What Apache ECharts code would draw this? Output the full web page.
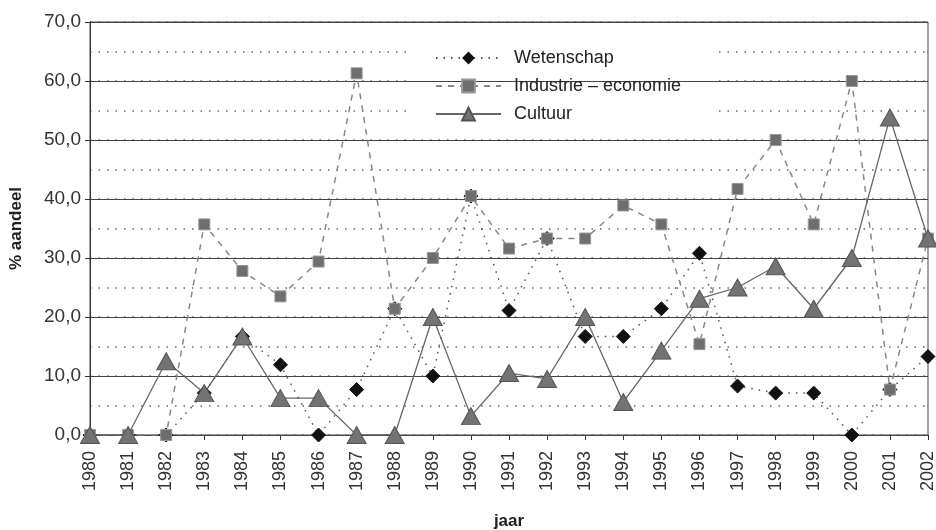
<!DOCTYPE html>
<html><head><meta charset="utf-8">
<script src="https://cdn.jsdelivr.net/npm/echarts@6/dist/echarts.min.js"></script>
<style>html,body{margin:0;padding:0;background:#fff}#c{width:936px;height:530px}</style>
</head><body><div id="c"></div>
<script>
var years = ['1980','1981','1982','1983','1984','1985','1986','1987','1988','1989','1990','1991','1992','1993','1994','1995','1996','1997','1998','1999','2000','2001','2002'];
var wetenschap = [0,0,0,7.1,16.7,11.9,0,7.7,21.4,10,40.5,21.1,33.3,16.7,16.7,21.4,30.8,8.3,7.1,7.1,0,7.7,13.3];
var industrie = [0,0,0,35.7,27.8,23.5,29.4,61.3,21.4,30,40.5,31.6,33.3,33.3,38.9,35.7,15.4,41.7,50,35.7,60,7.7,33.3];
var cultuur = [0,0,12.5,7.1,16.7,6.25,6.25,0,0,20,3.2,10.5,9.5,20,5.6,14.3,23.1,25,28.6,21.4,30,53.8,33.3];
var yTicks = [0,10,20,30,40,50,60,70];

var FONT = '"Liberation Sans Narrow","Arial Narrow","Liberation Sans",Arial,sans-serif';
var chart = echarts.init(document.getElementById('c'));
chart.setOption({
  animation: false,
  textStyle: {fontFamily: FONT},
  grid: {left: 90, right: 8, top: 22, bottom: 95, show: true, borderColor: '#444', borderWidth: 1,
    containLabel: false, outerBoundsMode: 'none'},
  legend: {
    left: 430, top: 44, orient: 'vertical', itemWidth: 65, itemHeight: 16, itemGap: 10,
    textStyle: {fontFamily: FONT, fontSize: 18, color: '#222', padding: [0, 0, 0, 8]},
    data: ['Wetenschap', 'Industrie – economie', 'Cultuur']
  },
  graphic: [{type: 'rect', shape: {x: 411, y: 40, width: 306, height: 82}, style: {fill: '#fff'}, z: 1, silent: true}],
  xAxis: {
    type: 'category', data: years, boundaryGap: false,
    axisLine: {lineStyle: {color: '#333'}},
    axisTick: {show: true, length: 5, lineStyle: {color: '#333'}},
    axisLabel: {rotate: 90, fontSize: 18, color: '#333', fontFamily: FONT, margin: 16},
    name: 'jaar', nameLocation: 'middle', nameGap: 78,
    nameTextStyle: {fontWeight: 'bold', fontSize: 17, color: '#222', fontFamily: FONT}
  },
  yAxis: [{
    type: 'value', min: 0, max: 70, interval: 10, z: 2,
    axisLine: {show: true, lineStyle: {color: '#333'}},
    axisTick: {show: true, length: 5, lineStyle: {color: '#333'}},
    axisLabel: {fontSize: 19, color: '#333', fontFamily: FONT, margin: 9,
      formatter: function (v) { return v.toFixed(1).replace('.', ','); }},
    splitLine: {lineStyle: {color: '#444', width: 1}},
    name: '% aandeel', nameLocation: 'middle', nameGap: 65,
    nameTextStyle: {fontWeight: 'bold', fontSize: 17, color: '#222', fontFamily: FONT}
  }, {
    type: 'value', min: 0, max: 70, interval: 5, z: 0, position: 'left',
    axisLine: {show: false}, axisTick: {show: false}, axisLabel: {show: false},
    splitLine: {lineStyle: {color: '#666', type: [1.5, 7], width: 1.5}}
  }],
  series: [{
    name: 'Wetenschap', type: 'line', data: wetenschap, z: 3,
    symbol: 'diamond', symbolSize: 14,
    itemStyle: {color: '#111', borderColor: '#111'},
    lineStyle: {color: '#555', width: 1.5, type: [1.5, 6]}
  }, {
    name: 'Industrie – economie', type: 'line', data: industrie, z: 4,
    symbol: 'rect', symbolSize: 11,
    itemStyle: {color: '#6e6e6e', borderColor: '#999', borderWidth: 1},
    lineStyle: {color: '#888', width: 1.5, type: [6, 6]}
  }, {
    name: 'Cultuur', type: 'line', data: cultuur, z: 5,
    symbol: 'triangle', symbolSize: [19, 17],
    itemStyle: {color: '#737373', borderColor: '#555', borderWidth: 1},
    lineStyle: {color: '#666', width: 1.3}
  }]
});
</script></body></html>
